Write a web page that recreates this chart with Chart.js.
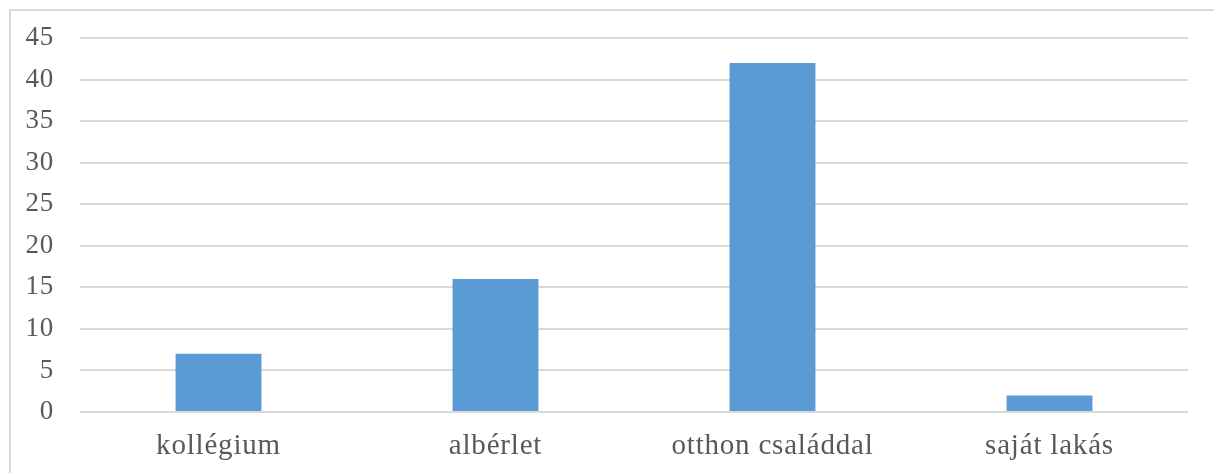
<!DOCTYPE html>
<html>
<head>
<meta charset="utf-8">
<script src="https://cdn.jsdelivr.net/npm/chart.js@4"></script>
<style>
  html, body { margin: 0; padding: 0; background: #fff; }
  #wrap { position: relative; width: 1214px; height: 473px; overflow: hidden; }
  #frame { position: absolute; left: 9px; top: 9px; width: 1220px; height: 480px; border: 2px solid #d9d9d9; }
  #chart { position: absolute; left: 0; top: 0; }
</style>
</head>
<body>
<div id="wrap">
  <div id="frame"></div>
  <canvas id="chart" width="1214" height="473"></canvas>
</div>
<script>
const categories = ['kollégium', 'albérlet', 'otthon családdal', 'saját lakás'];
const values = [7, 16, 42, 2];
const yMax = 45;
const yStep = 5;

const ctx = document.getElementById('chart');

// the reference text runs a bit wide, so space the letters out slightly
const spacing = {
  id: 'spacing',
  beforeDraw(chart) { chart.ctx.letterSpacing = '0.8px'; }
};

new Chart(ctx, {
  type: 'bar',
  data: {
    labels: categories,
    datasets: [{
      data: values,
      backgroundColor: '#5b9bd5',
      borderWidth: 0,
      barPercentage: 0.31,
      categoryPercentage: 1
    }]
  },
  options: {
    responsive: false,
    animation: false,
    layout: { padding: { top: 20, right: 26, left: 0, bottom: 0 } },
    plugins: {
      legend: { display: false },
      tooltip: { enabled: false }
    },
    scales: {
      x: {
        grid: { display: false, drawTicks: false },
        border: { display: false },
        ticks: {
          color: '#595959',
          font: { family: 'Liberation Serif', size: 29 },
          padding: 17
        },
        afterFit(scale) { scale.height = 61; }
      },
      y: {
        min: 0,
        max: yMax,
        grid: { color: '#d9d9d9', lineWidth: 2, drawTicks: false },
        border: { display: false },
        ticks: {
          stepSize: yStep,
          color: '#595959',
          font: { family: 'Liberation Serif', size: 27, lineHeight: 0.9 },
          padding: 26
        },
        afterFit(scale) { scale.width = 80; }
      }
    }
  },
  plugins: [spacing]
});
</script>
</body>
</html>
